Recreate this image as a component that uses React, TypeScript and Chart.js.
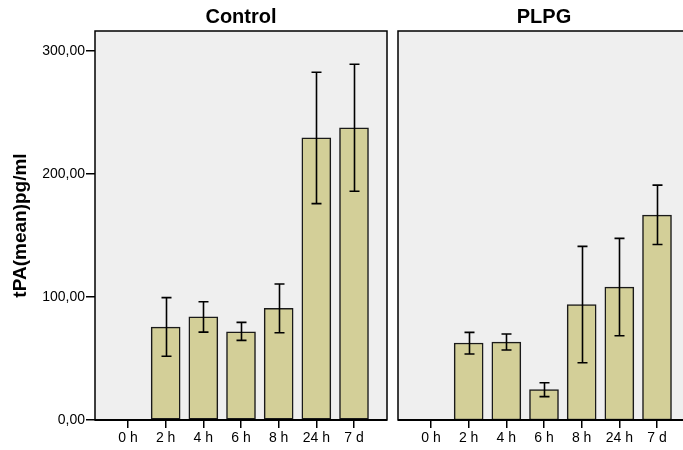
import React, { useEffect, useRef } from "react";
import { Chart, registerables } from "chart.js";

Chart.register(...registerables);

const categories = ["0 h", "2 h", "4 h", "6 h", "8 h", "24 h", "7 d"];
const controlMean = [0, 75.6, 84, 71.8, 90.8, 229.5, 237.6];
const controlLow = [null, 51.8, 71.5, 64.8, 71, 176, 186];
const controlHigh = [null, 99.5, 96.2, 79.4, 110.6, 282.9, 289.4];
const plpgMean = [0, 62.6, 63.4, 24.7, 93.8, 108.1, 166.7];
const plpgLow = [null, 53.7, 56.9, 19, 46.6, 68.5, 142.8];
const plpgHigh = [null, 71.3, 69.9, 30.3, 141.2, 147.7, 191];
const yTicks = [0, 100, 200, 300];
const panelTitles = ["Control", "PLPG"];

const FONT = "'Liberation Sans', Arial, sans-serif";
const BAR_FILL = "#D3CF98";
const PANEL_BG = "#EFEFEF";

function makePanelPlugin(title: string, low: (number | null)[], high: (number | null)[]) {
  return {
    id: "panelDeco",
    beforeDraw(chart: any) {
      const { ctx, chartArea: a } = chart;
      ctx.save();
      ctx.fillStyle = PANEL_BG;
      ctx.fillRect(a.left, a.top, a.right - a.left, a.bottom - a.top);
      ctx.restore();
    },
    afterDatasetsDraw(chart: any) {
      const { ctx, chartArea: a, scales } = chart;
      const xs = scales.x;
      const ys = scales.y;
      ctx.save();
      // error bars
      ctx.strokeStyle = "#000";
      ctx.lineWidth = 1.6;
      for (let i = 0; i < categories.length; i++) {
        const lo = low[i];
        const hi = high[i];
        if (lo == null || hi == null) continue;
        const x = Math.round(xs.getPixelForValue(i)) + 0.5;
        const y1 = ys.getPixelForValue(lo);
        const y2 = ys.getPixelForValue(hi);
        ctx.beginPath();
        ctx.moveTo(x, y1);
        ctx.lineTo(x, y2);
        ctx.moveTo(x - 5, y1);
        ctx.lineTo(x + 5, y1);
        ctx.moveTo(x - 5, y2);
        ctx.lineTo(x + 5, y2);
        ctx.stroke();
      }
      // panel border
      ctx.strokeStyle = "#000";
      ctx.lineWidth = 1.5;
      ctx.strokeRect(a.left, a.top, a.right - a.left, a.bottom - a.top);
      ctx.lineWidth = 2;
      ctx.beginPath();
      ctx.moveTo(a.left, a.bottom);
      ctx.lineTo(a.right, a.bottom);
      ctx.stroke();
      // title
      ctx.fillStyle = "#000";
      ctx.font = `bold 20px ${FONT}`;
      ctx.textAlign = "center";
      ctx.textBaseline = "alphabetic";
      ctx.fillText(title, (a.left + a.right) / 2, 22.5);
      ctx.restore();
    },
  };
}

function makeConfig(
  means: number[],
  low: (number | null)[],
  high: (number | null)[],
  title: string,
  showY: boolean,
  padding: any
): any {
  return {
    type: "bar",
    data: {
      datasets: [
        {
          data: means.map((v, i) => ({ x: i, y: v })),
          backgroundColor: BAR_FILL,
          borderColor: "#1a1a1a",
          borderWidth: 1.5,
          borderSkipped: false,
          barThickness: 29,
        },
      ],
    },
    options: {
      responsive: false,
      animation: false,
      events: [],
      layout: { padding },
      plugins: {
        legend: { display: false },
        tooltip: { enabled: false },
        title: { display: false },
      },
      scales: {
        x: {
          type: "linear",
          min: -0.876,
          max: 6.876,
          offset: false,
          afterBuildTicks: (s: any) => {
            s.ticks = categories.map((_, i) => ({ value: i }));
          },
          afterFit: (s: any) => {
            s.height = 30;
            s.paddingLeft = 0;
            s.paddingRight = 0;
          },
          ticks: {
            autoSkip: false,
            maxRotation: 0,
            padding: 2,
            color: "#000",
            font: { family: FONT, size: 14 },
            callback: (v: any) => categories[Math.round(v)] ?? "",
          },
          grid: {
            display: true,
            offset: false,
            drawOnChartArea: false,
            drawTicks: true,
            tickLength: 8,
            color: "#000",
            lineWidth: 1.5,
          },
          border: { display: false },
        },
        y: {
          display: showY,
          min: 0,
          max: 316.4,
          afterBuildTicks: (s: any) => {
            s.ticks = yTicks.map((v) => ({ value: v }));
          },
          afterFit: (s: any) => {
            s.width = showY ? 95 : 0;
            s.paddingTop = 0;
            s.paddingBottom = 0;
          },
          ticks: {
            padding: 1,
            color: "#000",
            font: { family: FONT, size: 14 },
            callback: (v: any) => Number(v).toFixed(2).replace(".", ","),
          },
          grid: {
            display: true,
            drawOnChartArea: false,
            drawTicks: true,
            tickLength: 9,
            color: "#000",
            lineWidth: 1.5,
          },
          border: { display: false },
          title: {
            display: true,
            text: "tPA(mean)pg/ml",
            color: "#000",
            font: { family: FONT, size: 19, weight: "bold" },
            padding: { top: 9, bottom: 0 },
          },
        },
      },
    },
    plugins: [makePanelPlugin(title, low, high)],
  };
}

export default function App() {
  const leftRef = useRef<HTMLCanvasElement>(null);
  const rightRef = useRef<HTMLCanvasElement>(null);

  useEffect(() => {
    const c1 = new Chart(
      leftRef.current as HTMLCanvasElement,
      makeConfig(controlMean, controlLow, controlHigh, panelTitles[0], true, {
        left: 0,
        right: 5,
        top: 31,
        bottom: 0,
      })
    );
    const c2 = new Chart(
      rightRef.current as HTMLCanvasElement,
      makeConfig(plpgMean, plpgLow, plpgHigh, panelTitles[1], false, {
        left: 8,
        right: 10,
        top: 31,
        bottom: 0,
      })
    );
    return () => {
      c1.destroy();
      c2.destroy();
    };
  }, []);

  return (
    <div
      style={{
        position: "absolute",
        left: 0,
        top: 0,
        width: 683,
        height: 450,
        overflow: "hidden",
        background: "#fff",
      }}
    >
      <canvas
        ref={leftRef}
        width={392}
        height={450}
        style={{ position: "absolute", left: 0, top: 0, width: 392, height: 450 }}
      />
      <canvas
        ref={rightRef}
        width={310}
        height={450}
        style={{ position: "absolute", left: 390, top: 0, width: 310, height: 450 }}
      />
    </div>
  );
}
